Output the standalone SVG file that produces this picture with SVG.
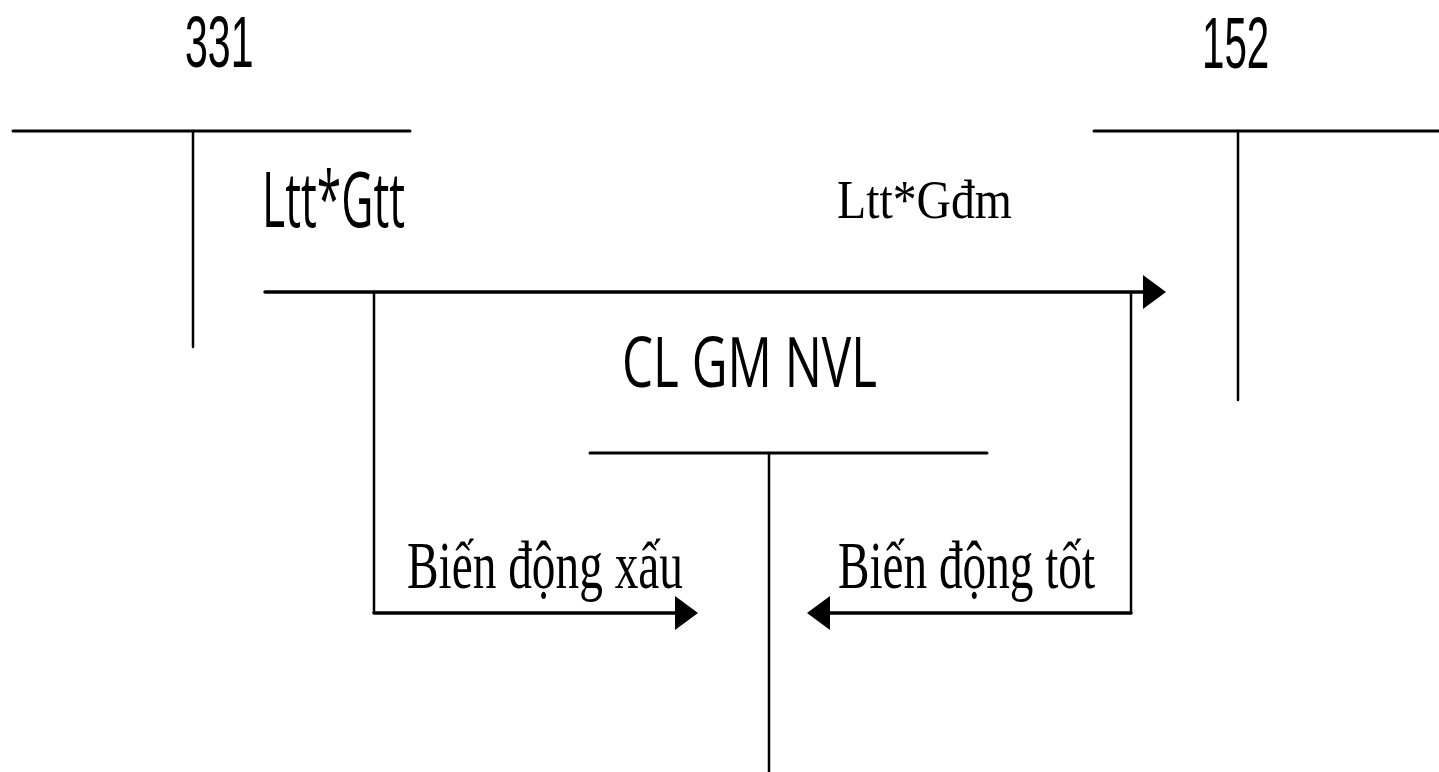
<svg xmlns="http://www.w3.org/2000/svg" width="1439" height="772" viewBox="0 0 1439 772">
  <style>
    .sans { font-family: "Open Sans", "Liberation Sans", sans-serif; fill: #000; }
    .num { font-family: "Liberation Sans", Arial, sans-serif; fill: #000; }
    .serif { font-family: "Liberation Serif", "Times New Roman", serif; fill: #000; }
    .t { stroke: #000; stroke-width: 3; stroke-linecap: round; fill: none; }
    .v { stroke: #000; stroke-width: 2.5; stroke-linecap: round; fill: none; }
    .flow { stroke: #000; stroke-width: 3.5; stroke-linecap: round; fill: none; }
  </style>
  <defs>
    <marker id="head" viewBox="0 0 23 34" refX="0" refY="17" markerWidth="23" markerHeight="34" markerUnits="userSpaceOnUse" orient="auto">
      <path d="M0,0 L23,17 L0,34 Z" fill="#000"/>
    </marker>
  </defs>
  <rect width="1439" height="772" fill="#fff"/>

  <!-- account 331 -->
  <g id="acc331">
    <line class="t" x1="13" y1="131" x2="410" y2="131"/>
    <line class="v" x1="193" y1="131" x2="193" y2="347"/>
    <text class="num" transform="translate(185,67) scale(0.57,1)" font-size="72">331</text>
    <text class="sans" x="262" y="227" font-size="76" textLength="143" lengthAdjust="spacingAndGlyphs">Ltt*Gtt</text>
  </g>

  <!-- account 152 -->
  <g id="acc152">
    <line class="t" x1="1094" y1="131" x2="1439" y2="131"/>
    <line class="v" x1="1238" y1="131" x2="1238" y2="400"/>
    <text class="num" transform="translate(1202,68) scale(0.56,1)" font-size="72">152</text>
  </g>

  <!-- variance account -->
  <g id="clgm">
    <line class="t" x1="590" y1="453" x2="987" y2="453"/>
    <line class="v" x1="769" y1="453" x2="769" y2="772"/>
    <text class="sans" x="622" y="387" font-size="69" textLength="255" lengthAdjust="spacingAndGlyphs">CL GM NVL</text>
  </g>

  <!-- flows -->
  <g id="connectors">
    <line class="flow" x1="265" y1="292" x2="1143" y2="292" marker-end="url(#head)"/>
    <path class="v" d="M374,292 V613"/>
    <path class="v" d="M1131,292 V613"/>
    <line class="flow" x1="374" y1="613" x2="675" y2="613" marker-end="url(#head)"/>
    <line class="flow" x1="1131" y1="613" x2="830" y2="613" marker-end="url(#head)"/>
    <text class="serif" x="837" y="218" font-size="54" textLength="175" lengthAdjust="spacingAndGlyphs">Ltt*Gđm</text>
    <text class="serif" x="407" y="588" font-size="68" textLength="276" lengthAdjust="spacingAndGlyphs">Biến động xấu</text>
    <text class="serif" x="838" y="588" font-size="68" textLength="257" lengthAdjust="spacingAndGlyphs">Biến động tốt</text>
  </g>
</svg>
